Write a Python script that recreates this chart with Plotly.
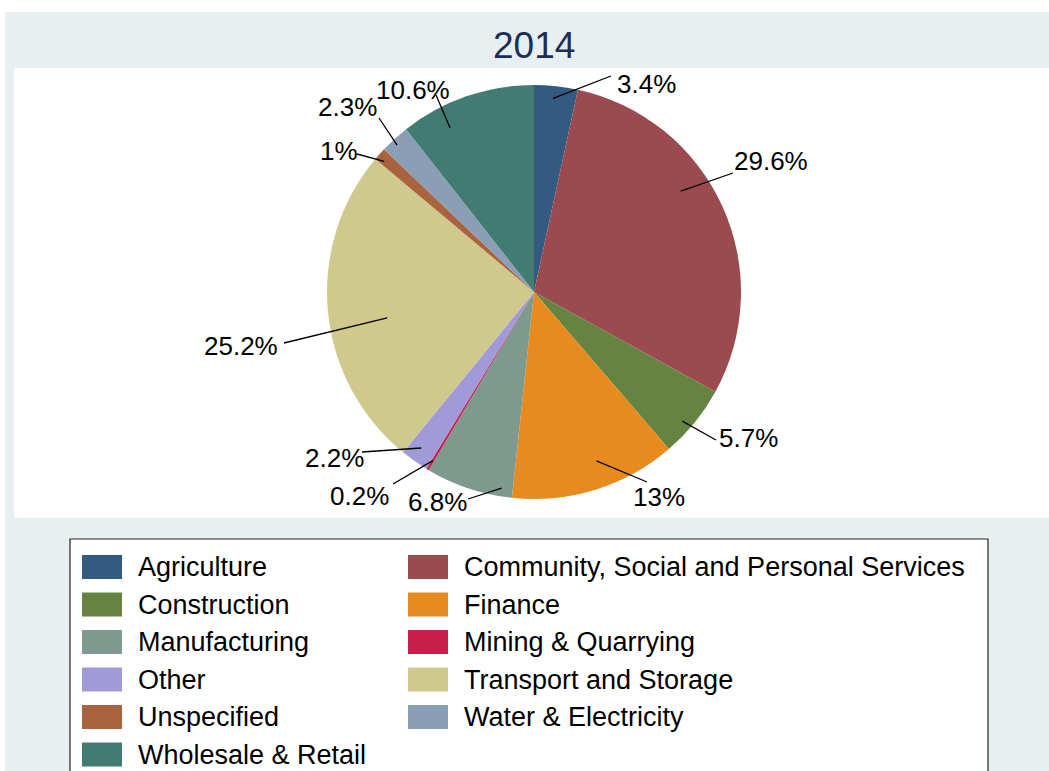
import math
import plotly.graph_objects as go

# Employment share by sector, 2014 (percent)
sectors = [
    "Agriculture",
    "Community, Social and Personal Services",
    "Construction",
    "Finance",
    "Manufacturing",
    "Mining & Quarrying",
    "Other",
    "Transport and Storage",
    "Unspecified",
    "Water & Electricity",
    "Wholesale & Retail",
]
shares = [3.4, 29.6, 5.7, 13, 6.8, 0.2, 2.2, 25.2, 1, 2.3, 10.6]
colors = [
    "#335a80", "#9b4a50", "#678341", "#e88b1e", "#7e998e", "#c81f4a",
    "#a09bd8", "#cfc98e", "#a9633f", "#8a9fb5", "#417b72",
]
title_text = "2014"

W, H = 1049, 771
CX, CY, R = 534, 292, 207  # pie centre and radius in pixels


def px(x):
    return x / W


def py(y):
    return 1 - y / H


# Callout layout per slice: anchor (angle nudge in degrees, radius fraction),
# leader-line end and label centre in pixels.
callouts = [
    (-0.5, 0.94, (611, 76), (646, 84)),
    (-10.0, 0.86, (733, 173), (771, 161)),
    (2.0, 0.95, (716, 440), (748, 438)),
    (-3.0, 0.87, (647, 482), (659, 497)),
    (-9.0, 0.96, (468, 499), (437, 502)),
    (0.0, 0.95, (393, 484), (359, 496)),
    (0.6, 0.93, (362, 452), (334, 458)),
    (-4.6, 0.72, (284, 343), (241, 346)),
    (-0.7, 0.96, (357, 154), (339, 151)),
    (-0.7, 0.97, (379, 118), (347, 107)),
    (-8.0, 0.89, (436, 95), (413, 90)),
]

fig = go.Figure(
    go.Pie(
        labels=sectors,
        values=shares,
        sort=False,
        direction="clockwise",
        rotation=0,
        marker=dict(colors=colors, line=dict(width=0)),
        textinfo="none",
        hoverinfo="label+percent",
        showlegend=False,
        domain=dict(x=[px(CX - R), px(CX + R)], y=[py(CY + R), py(CY - R)]),
    )
)

shapes = [
    # graph region and plot region backgrounds
    dict(type="rect", xref="paper", yref="paper", x0=px(5), x1=px(W + 5),
         y0=py(H + 5), y1=py(12), fillcolor="#e8eff1", line=dict(width=0),
         layer="below"),
    dict(type="rect", xref="paper", yref="paper", x0=px(14), x1=px(W + 5),
         y0=py(518), y1=py(68), fillcolor="white", line=dict(width=0),
         layer="below"),
]
annotations = [
    dict(text=title_text, x=px(534), y=py(45), xref="paper", yref="paper",
         showarrow=False, xanchor="center", yanchor="middle",
         font=dict(family="Liberation Sans, Arial", size=37, color="#1c2e57")),
]

# percentage labels with leader lines
total = sum(shares)
cum = 0.0
for val, (nudge, rf, end, lab) in zip(shares, callouts):
    mid = (cum + val / 2) / total * 360 + nudge
    cum += val
    a = math.radians(mid)
    ax = CX + rf * R * math.sin(a)
    ay = CY - rf * R * math.cos(a)
    shapes.append(dict(type="line", xref="paper", yref="paper",
                       x0=px(ax), y0=py(ay), x1=px(end[0]), y1=py(end[1]),
                       line=dict(color="black", width=1.3)))
    pct = f"{val:g}%"
    annotations.append(dict(text=pct, x=px(lab[0]), y=py(lab[1]),
                            xref="paper", yref="paper", showarrow=False,
                            xanchor="center", yanchor="middle",
                            font=dict(family="Liberation Sans, Arial", size=26,
                                      color="black")))

# legend box, two columns filled row by row
shapes.append(dict(type="rect", xref="paper", yref="paper", x0=px(70),
                   x1=px(988), y0=py(H + 10), y1=py(539), fillcolor="white",
                   line=dict(color="#222222", width=1.2)))
col_swatch = [82, 408]
col_text = [136, 462]
row0, row_step = 567, 37.5
for i, (name, col) in enumerate(zip(sectors, colors)):
    c, r = i % 2, i // 2
    yc = row0 + r * row_step
    shapes.append(dict(type="rect", xref="paper", yref="paper",
                       x0=px(col_swatch[c]), x1=px(col_swatch[c] + 40),
                       y0=py(yc + 12), y1=py(yc - 12), fillcolor=col,
                       line=dict(width=0)))
    annotations.append(dict(text=name, x=px(col_text[c]), y=py(yc),
                            xref="paper", yref="paper", showarrow=False,
                            xanchor="left", yanchor="middle",
                            font=dict(family="Liberation Sans, Arial",
                                      size=27, color="black")))

fig.update_layout(
    width=W,
    height=H,
    margin=dict(l=0, r=0, t=0, b=0),
    paper_bgcolor="white",
    plot_bgcolor="white",
    shapes=shapes,
    annotations=annotations,
)

fig.write_html("out.html")
